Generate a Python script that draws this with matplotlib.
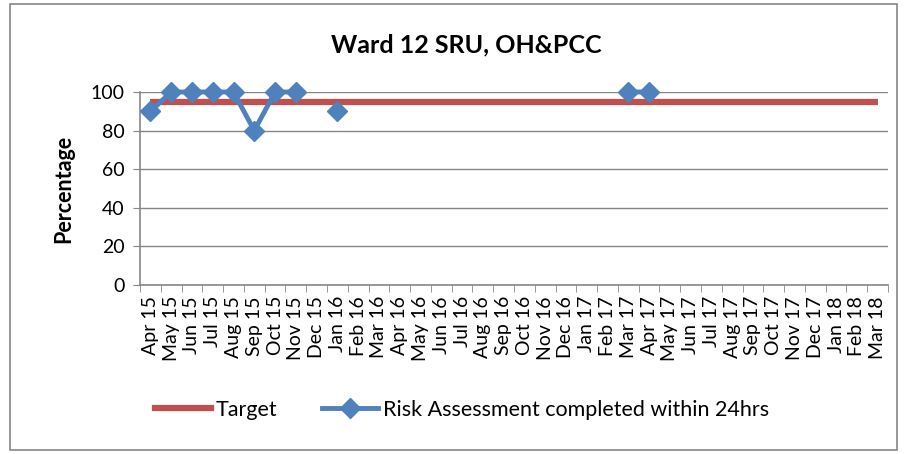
import matplotlib
matplotlib.use("Agg")
import matplotlib.pyplot as plt
import numpy as np
from matplotlib.patches import Rectangle
from matplotlib.lines import Line2D

months = ["Apr 15", "May 15", "Jun 15", "Jul 15", "Aug 15", "Sep 15", "Oct 15", "Nov 15",
          "Dec 15", "Jan 16", "Feb 16", "Mar 16", "Apr 16", "May 16", "Jun 16", "Jul 16",
          "Aug 16", "Sep 16", "Oct 16", "Nov 16", "Dec 16", "Jan 17", "Feb 17", "Mar 17",
          "Apr 17", "May 17", "Jun 17", "Jul 17", "Aug 17", "Sep 17", "Oct 17", "Nov 17",
          "Dec 17", "Jan 18", "Feb 18", "Mar 18"]
target = [95] * len(months)
nan = np.nan
risk = [90, 100, 100, 100, 100, 80, 100, 100, nan, 90, nan, nan, nan, nan, nan, nan,
        nan, nan, nan, nan, nan, nan, nan, 100, 100, nan, nan, nan, nan, nan, nan, nan,
        nan, nan, nan, nan]

plt.rcParams['font.family'] = ['Lato', 'DejaVu Sans']

fig = plt.figure(figsize=(9.07, 4.54), dpi=100)
fig.patches.append(Rectangle((10/907, 4/454), 887/907, 446/454, transform=fig.transFigure,
                             fill=False, edgecolor="#868686", linewidth=1.2))

ax = fig.add_axes([140/907, 1 - 285/454, 748/907, 193/454])
x = np.arange(len(months))
red = "#C0504D"
blue = "#4F81BD"
ax.plot(x, target, color=red, linewidth=4.5, solid_capstyle="butt", zorder=3)
ax.plot(x, risk, color=blue, linewidth=3.5, marker="D", markersize=10.5,
        markerfacecolor=blue, markeredgecolor=blue, zorder=4, clip_on=False)

ax.set_xlim(-0.5, len(months) - 0.5)
ax.set_ylim(0, 100)
ax.set_yticks(range(0, 101, 20))
ax.yaxis.grid(True, color="#868686", linewidth=1)
ax.set_axisbelow(True)
for s in ["top", "right"]:
    ax.spines[s].set_visible(False)
for s in ["left", "bottom"]:
    ax.spines[s].set_color("#868686")
    ax.spines[s].set_linewidth(1.2)
ax.set_xticks(x)
ax.set_xticklabels(months, rotation=90, fontsize=14)
ax.tick_params(axis="x", which="major", length=0, pad=8)
ax.set_xticks(np.arange(-0.5, len(months), 1), minor=True)
ax.tick_params(axis="x", which="minor", length=5, color="#868686")
ax.tick_params(axis="y", length=5, color="#868686", labelsize=14, pad=6)
ax.set_ylabel("Percentage", fontsize=15.5, fontweight="bold", labelpad=12)
fig.text(466/907, 1 - 45/454, "Ward 12 SRU, OH&PCC", fontsize=18, fontweight="bold",
         ha="center", va="center")

handles = [Line2D([], [], color=red, linewidth=4.5),
           Line2D([], [], color=blue, linewidth=3.5, marker="D", markersize=10.5)]
fig.legend(handles, ["Target", "Risk Assessment completed within 24hrs"],
           loc="center", bbox_to_anchor=(462/907, 1 - 410/454), ncol=2, frameon=False,
           fontsize=15.5, handlelength=2.6, columnspacing=2.1, handletextpad=0.2)

fig.savefig("out.png", dpi=100)
